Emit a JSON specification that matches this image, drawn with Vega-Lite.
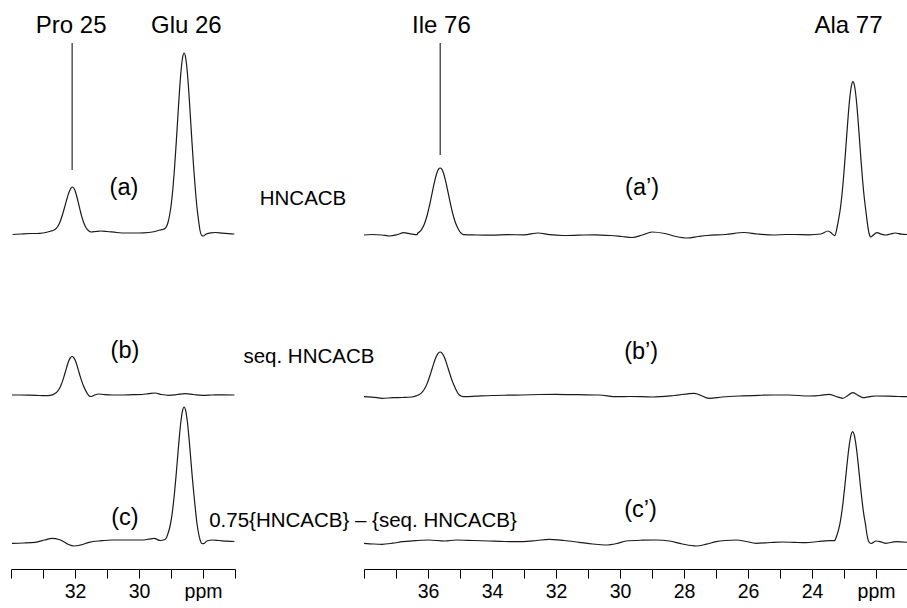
{
  "$schema": "https://vega.github.io/schema/vega-lite/v6.json",
  "padding": {"left": 9, "top": 0, "right": 0, "bottom": 0},
  "background": "white",
  "config": {
    "view": {"stroke": null},
    "font": "Liberation Sans",
    "text": {"font": "Liberation Sans", "color": "black"},
    "axis": {
      "grid": false, "title": null,
      "domainColor": "black", "domainWidth": 1,
      "tickColor": "black", "tickWidth": 1, "tickSize": 9, "tickCount": 60,
      "labelColor": "black", "labelFont": "Liberation Sans", "labelFontSize": 19.5,
      "labelPadding": 4, "labelOverlap": false, "labelFlush": false, "labelBound": false
    }
  },
  "datasets": {
    "left": [
      {"trace":"a","ppm":33.95,"intensity":334.5},{"trace":"a","ppm":33.7,"intensity":335},{"trace":"a","ppm":33.4,"intensity":335.5},{"trace":"a","ppm":33.2,"intensity":335.5},{"trace":"a","ppm":33.0,"intensity":336},{"trace":"a","ppm":32.85,"intensity":337},{"trace":"a","ppm":32.75,"intensity":338},
      {"trace":"a","ppm":32.69,"intensity":338.5},{"trace":"a","ppm":32.64,"intensity":339.2},{"trace":"a","ppm":32.59,"intensity":340.5},{"trace":"a","ppm":32.54,"intensity":342.5},{"trace":"a","ppm":32.49,"intensity":345.5},{"trace":"a","ppm":32.44,"intensity":349.5},{"trace":"a","ppm":32.39,"intensity":354.5},{"trace":"a","ppm":32.34,"intensity":360},{"trace":"a","ppm":32.29,"intensity":365.8},{"trace":"a","ppm":32.24,"intensity":371.5},{"trace":"a","ppm":32.19,"intensity":376.5},{"trace":"a","ppm":32.14,"intensity":380},{"trace":"a","ppm":32.09,"intensity":382},{"trace":"a","ppm":32.04,"intensity":381},{"trace":"a","ppm":31.99,"intensity":377.5},{"trace":"a","ppm":31.94,"intensity":372},{"trace":"a","ppm":31.89,"intensity":365.5},{"trace":"a","ppm":31.84,"intensity":358.8},{"trace":"a","ppm":31.79,"intensity":352.6},{"trace":"a","ppm":31.74,"intensity":347.5},{"trace":"a","ppm":31.69,"intensity":343.5},{"trace":"a","ppm":31.64,"intensity":340.5},{"trace":"a","ppm":31.59,"intensity":338.7},{"trace":"a","ppm":31.54,"intensity":337.5},{"trace":"a","ppm":31.49,"intensity":337},
      {"trace":"a","ppm":31.35,"intensity":337.5},{"trace":"a","ppm":31.2,"intensity":338},{"trace":"a","ppm":31.0,"intensity":337.5},{"trace":"a","ppm":30.7,"intensity":336.5},{"trace":"a","ppm":30.4,"intensity":336},{"trace":"a","ppm":30.0,"intensity":336},{"trace":"a","ppm":29.7,"intensity":336.5},{"trace":"a","ppm":29.5,"intensity":337.5},{"trace":"a","ppm":29.4,"intensity":338.5},{"trace":"a","ppm":29.3,"intensity":339.3},{"trace":"a","ppm":29.24,"intensity":339.8},
      {"trace":"a","ppm":29.19,"intensity":340.5},{"trace":"a","ppm":29.14,"intensity":342.5},{"trace":"a","ppm":29.09,"intensity":347},{"trace":"a","ppm":29.04,"intensity":354.5},{"trace":"a","ppm":28.99,"intensity":365.3},{"trace":"a","ppm":28.94,"intensity":380.8},{"trace":"a","ppm":28.89,"intensity":400.8},{"trace":"a","ppm":28.84,"intensity":424.6},{"trace":"a","ppm":28.79,"intensity":450.3},{"trace":"a","ppm":28.74,"intensity":475.5},{"trace":"a","ppm":28.69,"intensity":496.7},{"trace":"a","ppm":28.64,"intensity":511},{"trace":"a","ppm":28.59,"intensity":516},{"trace":"a","ppm":28.54,"intensity":511},{"trace":"a","ppm":28.49,"intensity":496.7},{"trace":"a","ppm":28.44,"intensity":475.5},{"trace":"a","ppm":28.39,"intensity":450.3},{"trace":"a","ppm":28.34,"intensity":424.6},{"trace":"a","ppm":28.29,"intensity":400.8},{"trace":"a","ppm":28.24,"intensity":380},{"trace":"a","ppm":28.19,"intensity":362},{"trace":"a","ppm":28.14,"intensity":349},{"trace":"a","ppm":28.09,"intensity":338},{"trace":"a","ppm":28.04,"intensity":333.5},{"trace":"a","ppm":27.99,"intensity":333},
      {"trace":"a","ppm":27.9,"intensity":335},{"trace":"a","ppm":27.75,"intensity":336.2},{"trace":"a","ppm":27.6,"intensity":336.5},{"trace":"a","ppm":27.4,"intensity":335.8},{"trace":"a","ppm":27.2,"intensity":335.3},{"trace":"a","ppm":27.02,"intensity":335},

      {"trace":"b","ppm":33.97,"intensity":174},{"trace":"b","ppm":33.7,"intensity":174},{"trace":"b","ppm":33.4,"intensity":173.8},{"trace":"b","ppm":33.1,"intensity":173.5},{"trace":"b","ppm":32.85,"intensity":173.3},
      {"trace":"b","ppm":32.69,"intensity":174.4},{"trace":"b","ppm":32.64,"intensity":175.2},{"trace":"b","ppm":32.59,"intensity":176.3},{"trace":"b","ppm":32.54,"intensity":177.9},{"trace":"b","ppm":32.49,"intensity":180.3},{"trace":"b","ppm":32.44,"intensity":183.6},{"trace":"b","ppm":32.39,"intensity":187.9},{"trace":"b","ppm":32.34,"intensity":192.9},{"trace":"b","ppm":32.29,"intensity":198.4},{"trace":"b","ppm":32.24,"intensity":203.8},{"trace":"b","ppm":32.19,"intensity":208.4},{"trace":"b","ppm":32.14,"intensity":211.4},{"trace":"b","ppm":32.09,"intensity":212.5},{"trace":"b","ppm":32.04,"intensity":211.4},{"trace":"b","ppm":31.99,"intensity":208.4},{"trace":"b","ppm":31.94,"intensity":203.8},{"trace":"b","ppm":31.89,"intensity":198.4},{"trace":"b","ppm":31.84,"intensity":192.9},{"trace":"b","ppm":31.79,"intensity":187.9},{"trace":"b","ppm":31.74,"intensity":183.6},{"trace":"b","ppm":31.69,"intensity":180},{"trace":"b","ppm":31.64,"intensity":176.8},{"trace":"b","ppm":31.59,"intensity":174.3},{"trace":"b","ppm":31.54,"intensity":172.6},{"trace":"b","ppm":31.49,"intensity":172.5},
      {"trace":"b","ppm":31.4,"intensity":173.8},{"trace":"b","ppm":31.26,"intensity":175},{"trace":"b","ppm":31.1,"intensity":174.5},{"trace":"b","ppm":30.84,"intensity":174},{"trace":"b","ppm":30.5,"intensity":174},{"trace":"b","ppm":30.2,"intensity":174.3},{"trace":"b","ppm":29.9,"intensity":174.5},{"trace":"b","ppm":29.7,"intensity":175.3},{"trace":"b","ppm":29.5,"intensity":176},{"trace":"b","ppm":29.3,"intensity":174.5},{"trace":"b","ppm":29.06,"intensity":173.7},{"trace":"b","ppm":28.8,"intensity":174.5},{"trace":"b","ppm":28.56,"intensity":175.3},{"trace":"b","ppm":28.3,"intensity":174.5},{"trace":"b","ppm":28.03,"intensity":173.7},{"trace":"b","ppm":27.7,"intensity":174},{"trace":"b","ppm":27.4,"intensity":174.2},{"trace":"b","ppm":27.02,"intensity":174},

      {"trace":"c","ppm":33.97,"intensity":25.7},{"trace":"c","ppm":33.6,"intensity":26},{"trace":"c","ppm":33.25,"intensity":26.7},{"trace":"c","ppm":32.95,"intensity":29},{"trace":"c","ppm":32.72,"intensity":30.7},{"trace":"c","ppm":32.5,"intensity":29.5},{"trace":"c","ppm":32.35,"intensity":27.3},{"trace":"c","ppm":32.2,"intensity":24.5},{"trace":"c","ppm":32.03,"intensity":23},{"trace":"c","ppm":31.85,"intensity":23.8},{"trace":"c","ppm":31.56,"intensity":26.7},{"trace":"c","ppm":31.2,"intensity":28.2},{"trace":"c","ppm":30.84,"intensity":29},{"trace":"c","ppm":30.4,"intensity":29},{"trace":"c","ppm":29.9,"intensity":29},{"trace":"c","ppm":29.7,"intensity":29.8},{"trace":"c","ppm":29.53,"intensity":30.7},{"trace":"c","ppm":29.34,"intensity":28.5},
      {"trace":"c","ppm":29.19,"intensity":29.5},{"trace":"c","ppm":29.14,"intensity":31.5},{"trace":"c","ppm":29.09,"intensity":35.9},{"trace":"c","ppm":29.04,"intensity":41.5},{"trace":"c","ppm":28.99,"intensity":49.8},{"trace":"c","ppm":28.94,"intensity":61.4},{"trace":"c","ppm":28.89,"intensity":76.2},{"trace":"c","ppm":28.84,"intensity":93.9},{"trace":"c","ppm":28.79,"intensity":113.1},{"trace":"c","ppm":28.74,"intensity":131.9},{"trace":"c","ppm":28.69,"intensity":147.7},{"trace":"c","ppm":28.64,"intensity":158.2},{"trace":"c","ppm":28.59,"intensity":162},{"trace":"c","ppm":28.54,"intensity":158.2},{"trace":"c","ppm":28.49,"intensity":147.7},{"trace":"c","ppm":28.44,"intensity":131.9},{"trace":"c","ppm":28.39,"intensity":113.1},{"trace":"c","ppm":28.34,"intensity":93.9},{"trace":"c","ppm":28.29,"intensity":76.2},{"trace":"c","ppm":28.24,"intensity":60.5},{"trace":"c","ppm":28.19,"intensity":46},{"trace":"c","ppm":28.14,"intensity":36},{"trace":"c","ppm":28.09,"intensity":29},{"trace":"c","ppm":28.04,"intensity":25.5},{"trace":"c","ppm":27.99,"intensity":25.3},
      {"trace":"c","ppm":27.875,"intensity":28},{"trace":"c","ppm":27.7,"intensity":29},{"trace":"c","ppm":27.5,"intensity":28.5},{"trace":"c","ppm":27.25,"intensity":27.8},{"trace":"c","ppm":27.02,"intensity":27.5}
    ],
    "right": [
      {"trace":"a","ppm":38.0,"intensity":334},{"trace":"a","ppm":37.75,"intensity":334.5},{"trace":"a","ppm":37.44,"intensity":334},{"trace":"a","ppm":37.19,"intensity":333},{"trace":"a","ppm":36.95,"intensity":334.5},{"trace":"a","ppm":36.76,"intensity":336.3},{"trace":"a","ppm":36.55,"intensity":335.2},{"trace":"a","ppm":36.34,"intensity":334.3},
      {"trace":"a","ppm":36.32,"intensity":335.8},{"trace":"a","ppm":36.27,"intensity":337},{"trace":"a","ppm":36.22,"intensity":338.7},{"trace":"a","ppm":36.17,"intensity":341.2},{"trace":"a","ppm":36.12,"intensity":344.5},{"trace":"a","ppm":36.07,"intensity":349},{"trace":"a","ppm":36.02,"intensity":354.5},{"trace":"a","ppm":35.97,"intensity":361.1},{"trace":"a","ppm":35.92,"intensity":368.4},{"trace":"a","ppm":35.87,"intensity":376.2},{"trace":"a","ppm":35.82,"intensity":383.8},{"trace":"a","ppm":35.77,"intensity":390.7},{"trace":"a","ppm":35.72,"intensity":396.2},{"trace":"a","ppm":35.67,"intensity":399.8},{"trace":"a","ppm":35.62,"intensity":401},{"trace":"a","ppm":35.57,"intensity":399.8},{"trace":"a","ppm":35.52,"intensity":396.2},{"trace":"a","ppm":35.47,"intensity":390.7},{"trace":"a","ppm":35.42,"intensity":383.8},{"trace":"a","ppm":35.37,"intensity":376.2},{"trace":"a","ppm":35.32,"intensity":368.4},{"trace":"a","ppm":35.27,"intensity":361.1},{"trace":"a","ppm":35.22,"intensity":354.5},{"trace":"a","ppm":35.17,"intensity":349},{"trace":"a","ppm":35.12,"intensity":344.5},{"trace":"a","ppm":35.07,"intensity":341},{"trace":"a","ppm":35.02,"intensity":338},{"trace":"a","ppm":34.97,"intensity":336},{"trace":"a","ppm":34.92,"intensity":334.8},{"trace":"a","ppm":34.85,"intensity":334.3},
      {"trace":"a","ppm":34.5,"intensity":334},{"trace":"a","ppm":34.0,"intensity":333.8},{"trace":"a","ppm":33.5,"intensity":334.3},{"trace":"a","ppm":33.0,"intensity":334.2},{"trace":"a","ppm":32.56,"intensity":336},{"trace":"a","ppm":32.2,"intensity":334.3},{"trace":"a","ppm":31.8,"intensity":333.5},{"trace":"a","ppm":31.3,"intensity":333.8},{"trace":"a","ppm":30.8,"intensity":334.2},{"trace":"a","ppm":30.3,"intensity":333.5},{"trace":"a","ppm":29.95,"intensity":332.5},{"trace":"a","ppm":29.62,"intensity":331.5},{"trace":"a","ppm":29.3,"intensity":334},{"trace":"a","ppm":29.0,"intensity":337},{"trace":"a","ppm":28.6,"intensity":335.5},{"trace":"a","ppm":28.25,"intensity":332.5},{"trace":"a","ppm":27.9,"intensity":331},{"trace":"a","ppm":27.55,"intensity":332.5},{"trace":"a","ppm":27.28,"intensity":333.5},{"trace":"a","ppm":26.7,"intensity":334.5},{"trace":"a","ppm":26.12,"intensity":336.5},{"trace":"a","ppm":25.7,"intensity":335},{"trace":"a","ppm":25.2,"intensity":334},{"trace":"a","ppm":24.8,"intensity":334.5},{"trace":"a","ppm":24.53,"intensity":334.5},{"trace":"a","ppm":24.1,"intensity":334.2},{"trace":"a","ppm":23.72,"intensity":335},{"trace":"a","ppm":23.5,"intensity":338},{"trace":"a","ppm":23.38,"intensity":335.5},{"trace":"a","ppm":23.29,"intensity":333.3},
      {"trace":"a","ppm":23.22,"intensity":341},{"trace":"a","ppm":23.17,"intensity":349.5},{"trace":"a","ppm":23.12,"intensity":359},{"trace":"a","ppm":23.07,"intensity":372.2},{"trace":"a","ppm":23.02,"intensity":389.2},{"trace":"a","ppm":22.97,"intensity":409.4},{"trace":"a","ppm":22.92,"intensity":431.4},{"trace":"a","ppm":22.87,"intensity":452.8},{"trace":"a","ppm":22.82,"intensity":470.9},{"trace":"a","ppm":22.77,"intensity":483},{"trace":"a","ppm":22.72,"intensity":487.3},{"trace":"a","ppm":22.67,"intensity":483},{"trace":"a","ppm":22.62,"intensity":470.9},{"trace":"a","ppm":22.57,"intensity":452.8},{"trace":"a","ppm":22.52,"intensity":431.4},{"trace":"a","ppm":22.47,"intensity":409.4},{"trace":"a","ppm":22.42,"intensity":389.2},{"trace":"a","ppm":22.37,"intensity":372.2},{"trace":"a","ppm":22.32,"intensity":359},{"trace":"a","ppm":22.27,"intensity":346},{"trace":"a","ppm":22.22,"intensity":336},{"trace":"a","ppm":22.16,"intensity":332},{"trace":"a","ppm":22.1,"intensity":333.5},{"trace":"a","ppm":21.97,"intensity":336.3},{"trace":"a","ppm":21.85,"intensity":335},{"trace":"a","ppm":21.69,"intensity":334},{"trace":"a","ppm":21.55,"intensity":335},{"trace":"a","ppm":21.4,"intensity":336},{"trace":"a","ppm":21.2,"intensity":334.8},{"trace":"a","ppm":21.03,"intensity":334.5},

      {"trace":"b","ppm":38.0,"intensity":172.3},{"trace":"b","ppm":37.6,"intensity":171.3},{"trace":"b","ppm":37.44,"intensity":170.7},{"trace":"b","ppm":37.1,"intensity":171.3},{"trace":"b","ppm":36.8,"intensity":171.5},{"trace":"b","ppm":36.5,"intensity":172},
      {"trace":"b","ppm":36.32,"intensity":173.7},{"trace":"b","ppm":36.27,"intensity":174.5},{"trace":"b","ppm":36.22,"intensity":175.6},{"trace":"b","ppm":36.17,"intensity":177.3},{"trace":"b","ppm":36.12,"intensity":179.5},{"trace":"b","ppm":36.07,"intensity":182.5},{"trace":"b","ppm":36.02,"intensity":186.1},{"trace":"b","ppm":35.97,"intensity":190.5},{"trace":"b","ppm":35.92,"intensity":195.4},{"trace":"b","ppm":35.87,"intensity":200.5},{"trace":"b","ppm":35.82,"intensity":205.6},{"trace":"b","ppm":35.77,"intensity":210.2},{"trace":"b","ppm":35.72,"intensity":213.8},{"trace":"b","ppm":35.67,"intensity":216.2},{"trace":"b","ppm":35.62,"intensity":217},{"trace":"b","ppm":35.57,"intensity":216.2},{"trace":"b","ppm":35.52,"intensity":213.8},{"trace":"b","ppm":35.47,"intensity":210.2},{"trace":"b","ppm":35.42,"intensity":205.6},{"trace":"b","ppm":35.37,"intensity":200.5},{"trace":"b","ppm":35.32,"intensity":195.4},{"trace":"b","ppm":35.27,"intensity":190.5},{"trace":"b","ppm":35.22,"intensity":186.1},{"trace":"b","ppm":35.17,"intensity":182.5},{"trace":"b","ppm":35.12,"intensity":179},{"trace":"b","ppm":35.07,"intensity":176},{"trace":"b","ppm":35.02,"intensity":174},{"trace":"b","ppm":34.95,"intensity":172.8},{"trace":"b","ppm":34.85,"intensity":172.3},
      {"trace":"b","ppm":34.5,"intensity":172.8},{"trace":"b","ppm":34.0,"intensity":173.5},{"trace":"b","ppm":33.5,"intensity":173.8},{"trace":"b","ppm":33.04,"intensity":174},{"trace":"b","ppm":32.5,"intensity":174.5},{"trace":"b","ppm":32.0,"intensity":174.7},{"trace":"b","ppm":31.3,"intensity":174.3},{"trace":"b","ppm":30.66,"intensity":174},{"trace":"b","ppm":30.1,"intensity":172.3},{"trace":"b","ppm":29.7,"intensity":172.5},{"trace":"b","ppm":29.3,"intensity":172.3},{"trace":"b","ppm":28.98,"intensity":172},{"trace":"b","ppm":28.3,"intensity":173.5},{"trace":"b","ppm":27.68,"intensity":175.7},{"trace":"b","ppm":27.22,"intensity":170.7},{"trace":"b","ppm":26.8,"intensity":172},{"trace":"b","ppm":26.28,"intensity":173},{"trace":"b","ppm":25.66,"intensity":173.7},{"trace":"b","ppm":25.2,"intensity":174},{"trace":"b","ppm":24.72,"intensity":174},{"trace":"b","ppm":24.09,"intensity":173},{"trace":"b","ppm":23.75,"intensity":173.5},{"trace":"b","ppm":23.47,"intensity":174.7},{"trace":"b","ppm":23.25,"intensity":172.5},{"trace":"b","ppm":23.04,"intensity":170.7},{"trace":"b","ppm":22.88,"intensity":173.5},{"trace":"b","ppm":22.73,"intensity":176.3},{"trace":"b","ppm":22.58,"intensity":174},{"trace":"b","ppm":22.41,"intensity":171.3},{"trace":"b","ppm":22.2,"intensity":172.3},{"trace":"b","ppm":22.0,"intensity":173},{"trace":"b","ppm":21.6,"intensity":172.8},{"trace":"b","ppm":21.3,"intensity":172.5},{"trace":"b","ppm":21.02,"intensity":172.3},

      {"trace":"c","ppm":38.0,"intensity":25.7},{"trace":"c","ppm":37.7,"intensity":25},{"trace":"c","ppm":37.44,"intensity":24.7},{"trace":"c","ppm":37.1,"intensity":25.8},{"trace":"c","ppm":36.8,"intensity":27.3},{"trace":"c","ppm":36.4,"intensity":28.3},{"trace":"c","ppm":35.98,"intensity":29},{"trace":"c","ppm":35.47,"intensity":28},{"trace":"c","ppm":35.12,"intensity":29},{"trace":"c","ppm":34.6,"intensity":28.5},{"trace":"c","ppm":34.1,"intensity":28},{"trace":"c","ppm":33.6,"intensity":27.5},{"trace":"c","ppm":33.04,"intensity":27.3},{"trace":"c","ppm":32.6,"intensity":28.5},{"trace":"c","ppm":32.22,"intensity":29.7},{"trace":"c","ppm":31.75,"intensity":28.5},{"trace":"c","ppm":31.28,"intensity":26.7},{"trace":"c","ppm":30.85,"intensity":25},{"trace":"c","ppm":30.44,"intensity":24},{"trace":"c","ppm":30.1,"intensity":25.5},{"trace":"c","ppm":29.81,"intensity":28},{"trace":"c","ppm":29.3,"intensity":28.8},{"trace":"c","ppm":28.87,"intensity":29},{"trace":"c","ppm":28.46,"intensity":28},{"trace":"c","ppm":28.05,"intensity":25},{"trace":"c","ppm":27.62,"intensity":23},{"trace":"c","ppm":27.3,"intensity":24.8},{"trace":"c","ppm":27.0,"intensity":27.3},{"trace":"c","ppm":26.7,"intensity":28.5},{"trace":"c","ppm":26.37,"intensity":29},{"trace":"c","ppm":26.05,"intensity":27.5},{"trace":"c","ppm":25.75,"intensity":25.7},{"trace":"c","ppm":25.3,"intensity":26.5},{"trace":"c","ppm":24.92,"intensity":27},{"trace":"c","ppm":24.55,"intensity":26.6},{"trace":"c","ppm":24.19,"intensity":26.3},{"trace":"c","ppm":23.8,"intensity":27.5},{"trace":"c","ppm":23.46,"intensity":28.3},{"trace":"c","ppm":23.3,"intensity":28.3},
      {"trace":"c","ppm":23.23,"intensity":33},{"trace":"c","ppm":23.18,"intensity":38.1},{"trace":"c","ppm":23.13,"intensity":44.9},{"trace":"c","ppm":23.08,"intensity":54.4},{"trace":"c","ppm":23.03,"intensity":66.6},{"trace":"c","ppm":22.98,"intensity":81.1},{"trace":"c","ppm":22.93,"intensity":96.9},{"trace":"c","ppm":22.88,"intensity":112.3},{"trace":"c","ppm":22.83,"intensity":125.2},{"trace":"c","ppm":22.78,"intensity":134.2},{"trace":"c","ppm":22.73,"intensity":137.3},{"trace":"c","ppm":22.68,"intensity":134.2},{"trace":"c","ppm":22.63,"intensity":125.2},{"trace":"c","ppm":22.58,"intensity":112.3},{"trace":"c","ppm":22.53,"intensity":96.9},{"trace":"c","ppm":22.48,"intensity":81.1},{"trace":"c","ppm":22.43,"intensity":66.6},{"trace":"c","ppm":22.38,"intensity":54.4},{"trace":"c","ppm":22.33,"intensity":44.9},{"trace":"c","ppm":22.28,"intensity":34},{"trace":"c","ppm":22.23,"intensity":27.5},{"trace":"c","ppm":22.15,"intensity":25.5},{"trace":"c","ppm":22.0,"intensity":28},{"trace":"c","ppm":21.85,"intensity":27.2},{"trace":"c","ppm":21.69,"intensity":25.7},{"trace":"c","ppm":21.38,"intensity":27.3},{"trace":"c","ppm":21.02,"intensity":26.7}
    ]
  },
  "spacing": 129,
  "bounds": "flush",
  "hconcat": [
    {
      "width": 224,
      "height": 569,
      "layer": [
        {
          "data": {"name": "left"},
          "mark": {"type": "line", "interpolate": "monotone", "color": "#1a1a1a", "strokeWidth": 1.2},
          "encoding": {
            "x": {"field": "ppm", "type": "quantitative",
                  "scale": {"domain": [27, 34], "reverse": true, "nice": false, "zero": false},
                  "axis": {"values": [27, 28, 29, 30, 31, 32, 33, 34], "tickCount": 60, "format": "d",
                           "labelExpr": "datum.value == 28 ? 'ppm' : (datum.value == 30 || datum.value == 32) ? datum.label : ''",
                           "encode": {"ticks": {"update": {"y2": {"signal": "datum.value % 2 == 0 ? 9 : 3.5"}}}}}},
            "y": {"field": "intensity", "type": "quantitative", "scale": {"domain": [0, 569], "nice": false, "zero": false}, "axis": null},
            "detail": {"field": "trace", "type": "nominal"}
          }
        },
        {
          "data": {"values": [{"ppm": 32.09, "y": 399, "y2": 526}]},
          "mark": {"type": "rule", "color": "black", "strokeWidth": 1},
          "encoding": {
            "x": {"field": "ppm", "type": "quantitative"},
            "y": {"field": "y", "type": "quantitative"},
            "y2": {"field": "y2"}
          }
        },
        {
          "data": {"values": [{"label": "Pro 25", "ppm": 32.12, "y": 536}, {"label": "Glu 26", "ppm": 28.52, "y": 536}]},
          "mark": {"type": "text", "fontSize": 24, "align": "center", "baseline": "alphabetic"},
          "encoding": {"x": {"field": "ppm", "type": "quantitative"}, "y": {"field": "y", "type": "quantitative"}, "text": {"field": "label"}}
        },
        {
          "data": {"values": [{"label": "(a)", "ppm": 30.47, "y": 374}, {"label": "(b)", "ppm": 30.44, "y": 211}, {"label": "(c)", "ppm": 30.44, "y": 44}]},
          "mark": {"type": "text", "fontSize": 23.5, "align": "center", "baseline": "alphabetic"},
          "encoding": {"x": {"field": "ppm", "type": "quantitative"}, "y": {"field": "y", "type": "quantitative"}, "text": {"field": "label"}}
        },
        {
          "data": {"values": [{"label": "HNCACB", "ppm": 24.875, "y": 364}, {"label": "seq. HNCACB", "ppm": 24.69, "y": 206}, {"label": "0.75{HNCACB} – {seq. HNCACB}", "ppm": 23.0, "y": 42}]},
          "mark": {"type": "text", "fontSize": 20.5, "align": "center", "baseline": "alphabetic"},
          "encoding": {"x": {"field": "ppm", "type": "quantitative"}, "y": {"field": "y", "type": "quantitative"}, "text": {"field": "label"}}
        }
      ]
    },
    {
      "width": 544,
      "height": 569,
      "layer": [
        {
          "data": {"name": "right"},
          "mark": {"type": "line", "interpolate": "monotone", "color": "#1a1a1a", "strokeWidth": 1.2},
          "encoding": {
            "x": {"field": "ppm", "type": "quantitative",
                  "scale": {"domain": [21, 38], "reverse": true, "nice": false, "zero": false},
                  "axis": {"values": [21, 22, 23, 24, 25, 26, 27, 28, 29, 30, 31, 32, 33, 34, 35, 36, 37, 38], "tickCount": 60, "format": "d",
                           "labelExpr": "datum.value == 22 ? 'ppm' : (datum.value % 2 == 0 && datum.value >= 24 && datum.value <= 36) ? datum.label : ''",
                           "encode": {"ticks": {"update": {"y2": {"signal": "datum.value % 2 == 0 ? 9 : 3.5"}}}}}},
            "y": {"field": "intensity", "type": "quantitative", "scale": {"domain": [0, 569], "nice": false, "zero": false}, "axis": null},
            "detail": {"field": "trace", "type": "nominal"}
          }
        },
        {
          "data": {"values": [{"ppm": 35.62, "y": 414, "y2": 526}]},
          "mark": {"type": "rule", "color": "black", "strokeWidth": 1},
          "encoding": {
            "x": {"field": "ppm", "type": "quantitative"},
            "y": {"field": "y", "type": "quantitative"},
            "y2": {"field": "y2"}
          }
        },
        {
          "data": {"values": [{"label": "Ile 76", "ppm": 35.58, "y": 536}, {"label": "Ala 77", "ppm": 22.86, "y": 536}]},
          "mark": {"type": "text", "fontSize": 24, "align": "center", "baseline": "alphabetic"},
          "encoding": {"x": {"field": "ppm", "type": "quantitative"}, "y": {"field": "y", "type": "quantitative"}, "text": {"field": "label"}}
        },
        {
          "data": {"values": [{"label": "(a’)", "ppm": 29.31, "y": 374}, {"label": "(b’)", "ppm": 29.34, "y": 210.5}, {"label": "(c’)", "ppm": 29.36, "y": 52.3}]},
          "mark": {"type": "text", "fontSize": 23.5, "align": "center", "baseline": "alphabetic"},
          "encoding": {"x": {"field": "ppm", "type": "quantitative"}, "y": {"field": "y", "type": "quantitative"}, "text": {"field": "label"}}
        }
      ]
    }
  ]
}
